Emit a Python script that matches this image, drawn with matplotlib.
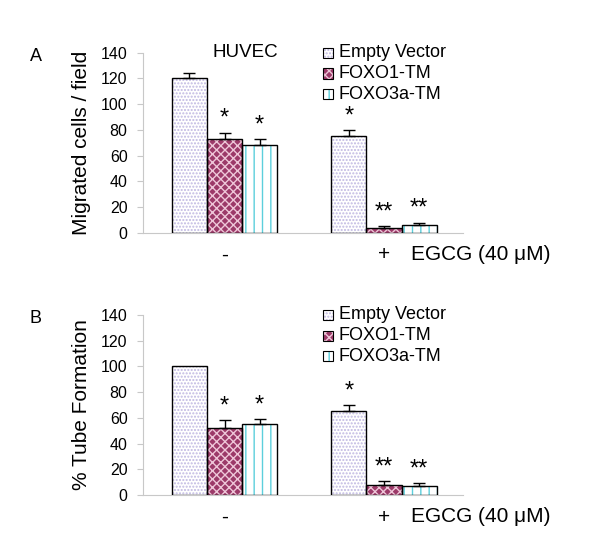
import matplotlib
matplotlib.use('Agg')
import matplotlib.pyplot as plt
from matplotlib.patches import Rectangle
import numpy as np

plt.rcParams['font.family'] = ['Liberation Sans', 'DejaVu Sans']
plt.rcParams['hatch.linewidth'] = 1.0

# data
series = ['Empty Vector', 'FOXO1-TM', 'FOXO3a-TM']
groups = ['-', '+']
mig_vals = [[120, 73, 68], [75, 4, 6]]
mig_err = [[4, 5, 5], [5, 1, 2]]
mig_stars = [['', '*', '*'], ['*', '**', '**']]
tube_vals = [[100, 52, 55], [65, 8, 7]]
tube_err = [[0, 6, 4], [5, 3, 2]]
tube_stars = [['', '*', '*'], ['*', '**', '**']]

# look of each series: face colour, hatch, hatch colour
face = ['white', '#9c3a69', 'white']
hatches = ['.....', 'xxxx', '||']
hcol = ['#c0b8e2', '#eec6d8', '#5ccfdc']

gray = '#c8c8c8'
grp_x = np.array([0.0, 4.54])
offs = np.array([-1.0, 0.0, 1.0])


def panel(ax, vals, errs, stars, ylabel, letter, title=None):
    for g in range(2):
        for s in range(3):
            x = grp_x[g] + offs[s]
            v = vals[g][s]
            ax.bar(x, v, 1.0, color=face[s], hatch=hatches[s], edgecolor=hcol[s], linewidth=0, zorder=2)
            ax.bar(x, v, 1.0, color='none', edgecolor='black', linewidth=1.0, zorder=3)
            if errs[g][s] > 0:
                ax.errorbar(x, v, yerr=[[0], [errs[g][s]]], fmt='none', ecolor='black',
                            elinewidth=1.0, capsize=4, capthick=1.0, zorder=4)
            if stars[g][s]:
                ax.text(x, v + errs[g][s] + 2, stars[g][s], ha='center', va='bottom', fontsize=17)
    ax.set_xlim(-2.33, 6.78)
    ax.set_ylim(0, 140)
    ax.set_yticks(range(0, 141, 20))
    ax.set_xticks(grp_x)
    ax.set_xticklabels(groups, fontsize=15)
    ax.tick_params(axis='x', length=0, pad=9)
    ax.tick_params(axis='y', length=4, color=gray, labelsize=11.5, pad=7)
    for sp in ['top', 'right']:
        ax.spines[sp].set_visible(False)
    ax.spines['left'].set_color(gray)
    ax.spines['bottom'].set_color(gray)
    ax.set_ylabel(ylabel, fontsize=15, labelpad=7)
    ax.text(0.84, -0.069, 'EGCG (40 \u03bcM)', transform=ax.transAxes, fontsize=15, va='top')
    ax.text(-0.335, 0.98, letter, transform=ax.transAxes, fontsize=13, ha='center', va='center')
    if title:
        ax.text(0.32, 1.0, title, transform=ax.transAxes, fontsize=13.5, ha='center', va='center')
    # legend drawn by hand
    for s in range(3):
        yc = 1.0 - 0.115 * s
        r1 = Rectangle((0.563, yc - 0.028), 0.031, 0.056, transform=ax.transAxes, facecolor=face[s],
                       hatch=hatches[s], edgecolor=hcol[s], linewidth=0, clip_on=False)
        r2 = Rectangle((0.563, yc - 0.028), 0.031, 0.056, transform=ax.transAxes, facecolor='none',
                       edgecolor='black', linewidth=0.8, clip_on=False)
        ax.add_patch(r1)
        ax.add_patch(r2)
        ax.text(0.612, yc, series[s], transform=ax.transAxes, fontsize=13, va='center')


fig = plt.figure(figsize=(6, 5.44), dpi=100)
ax1 = fig.add_axes([0.238, 0.572, 0.533, 0.331])
ax2 = fig.add_axes([0.238, 0.090, 0.533, 0.331])
panel(ax1, mig_vals, mig_err, mig_stars, 'Migrated cells / field', 'A', 'HUVEC')
panel(ax2, tube_vals, tube_err, tube_stars, '% Tube Formation', 'B')

fig.savefig('out.png', dpi=100)
